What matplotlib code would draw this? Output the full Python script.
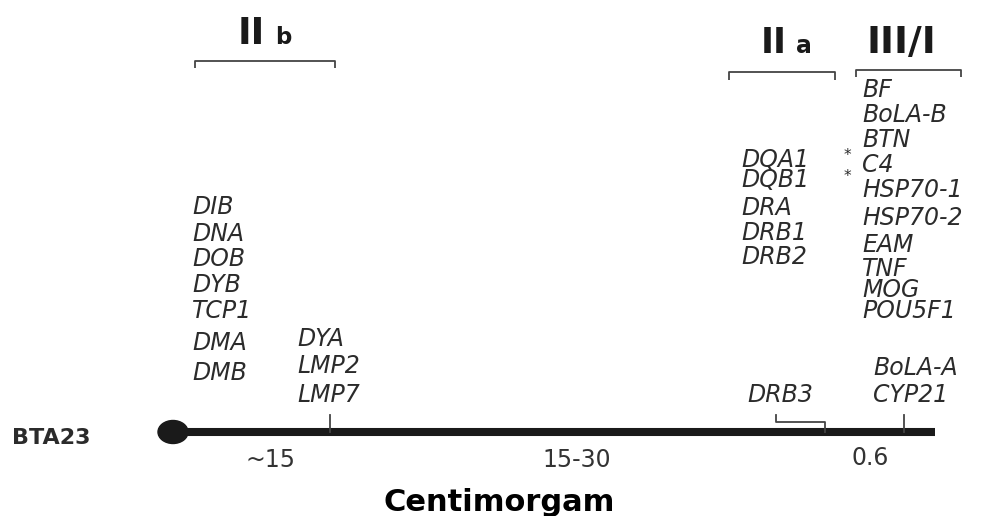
import matplotlib
matplotlib.use("Agg")
import matplotlib.pyplot as plt
from matplotlib.patches import Ellipse

# ---------------- data ----------------
chromosome = "BTA23"
axis_title = "Centimorgam"
region_main = ["II", "II", "III/I"]
region_sub = ["b", "a", ""]
distance_labels = ["~15", "15-30", "0.6"]

genes_IIb_a = ["DIB", "DNA", "DOB", "DYB", "TCP1", "DMA", "DMB"]
genes_IIb_b = ["DYA", "LMP2", "LMP7"]
genes_IIa = ["DQA1", "DQB1", "DRA", "DRB1", "DRB2"]
genes_IIa_marked = ["DQA1", "DQB1"]
genes_III = ["BF", "BoLA-B", "BTN", "C4", "HSP70-1", "HSP70-2", "EAM", "TNF", "MOG", "POU5F1"]
genes_I = ["BoLA-A", "CYP21"]
genes_DRB3 = ["DRB3"]

# ---------------- layout (pixel space) ----------------
W, H = 992, 516
fig = plt.figure(figsize=(W / 100, H / 100), dpi=100)
ax = fig.add_axes([0, 0, 1, 1])
ax.set_xlim(0, W)
ax.set_ylim(H, 0)
ax.axis("off")

gene_col = "#2b2b2b"
gfs = 17
gfont = dict(family="DejaVu Sans", style="oblique", fontsize=gfs, color=gene_col, va="baseline", ha="left")

def column(names, x, baselines):
    for n, y in zip(names, baselines):
        ax.text(x, y, n, **gfont)

column(genes_IIb_a, 192, [214.5, 241, 266.5, 292, 317.5, 349.5, 380.5])
column(genes_IIb_b, 297, [346, 373, 402])
column(genes_IIa, 741, [167, 187, 215, 240.5, 263.5])
column(genes_III, 862, [97, 122, 147, 172, 197, 225, 252, 275.5, 297, 318.5])
column(genes_I, 873, [375, 402])
column(genes_DRB3, 747, [402])

# asterisks
for y in [160, 181]:
    ax.text(847, y, "*", fontsize=11, color=gene_col, ha="center", va="baseline", family="DejaVu Sans")

# region headers
hdr = dict(family="DejaVu Sans", fontweight="bold", color="#1a1a1a", va="baseline", ha="left")
ax.text(238, 43.5, region_main[0], fontsize=26.5, **hdr)
ax.text(275, 43.5, region_sub[0], fontsize=16.5, **hdr)
ax.text(761, 53, region_main[1], fontsize=25, **hdr)
ax.text(796, 53, region_sub[1], fontsize=17, **hdr)
ax.text(867, 53, region_main[2], fontsize=27, **hdr)

# brackets
bcol = "#444444"
blw = 1.3
def bracket(x0, x1, y, drop):
    ax.plot([x0, x0, x1, x1], [y + drop, y, y, y + drop], color=bcol, lw=blw, solid_capstyle="butt")

bracket(195, 335, 61, 7)
bracket(729, 835, 72, 8)
bracket(856, 961, 70, 7)

# chromosome line
ax.plot([173, 935], [432, 432], color="#1a1a1a", lw=5.8, solid_capstyle="butt")
ax.add_patch(Ellipse((173, 432), 30, 23, color="#1a1a1a"))

# marker ticks
ax.plot([330, 330], [415, 432], color=bcol, lw=blw)
ax.plot([904, 904], [415, 432], color=bcol, lw=blw)
ax.plot([776, 776, 825, 825], [415, 421.5, 421.5, 432], color=bcol, lw=blw)

# chromosome label
ax.text(12, 444, chromosome, family="DejaVu Sans", fontweight="bold", fontsize=16,
        color="#2b2b2b", va="baseline", ha="left")

# distances
for lab, x, y in zip(distance_labels, [270, 577, 870], [467, 467, 465]):
    ax.text(x, y, lab, family="DejaVu Sans", fontsize=17, color="#333333", ha="center", va="baseline")

# axis title
ax.text(499, 511, axis_title, family="DejaVu Sans", fontweight="bold", fontsize=22,
        color="black", ha="center", va="baseline")

fig.savefig("out.png", dpi=100)
